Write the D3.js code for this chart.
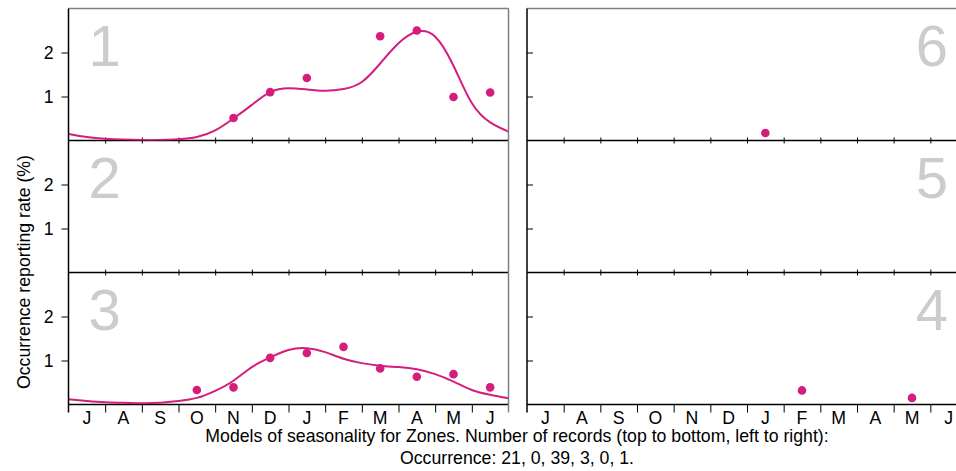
<!DOCTYPE html>
<html>
<head>
<meta charset="utf-8">
<script src="https://cdn.jsdelivr.net/npm/d3@7"></script>
<style>
  html, body { margin: 0; padding: 0; background: #fff; }
  svg { display: block; font-family: "Liberation Sans", Arial, sans-serif; }
</style>
</head>
<body>
<svg id="chart" width="956" height="471"></svg>
<script>
// ---------------- data ----------------
const months = ["J","A","S","O","N","D","J","F","M","A","M","J"];
const yTicks = [1, 2];
// zone labels, left column top->bottom, right column top->bottom
const leftZones = [1, 2, 3];
const rightZones = [6, 5, 4];
const recordCounts = [21, 0, 39, 3, 0, 1];

// observed monthly rates (month index 0 = July ... 11 = June)
const zone1Months = [4, 5, 6, 8, 9, 10, 11];
const zone1Rates  = [0.51, 1.10, 1.42, 2.37, 2.50, 0.99, 1.09];
const zone3Months = [3, 4, 5, 6, 7, 8, 9, 10, 11];
const zone3Rates  = [0.33, 0.39, 1.06, 1.17, 1.31, 0.82, 0.63, 0.69, 0.39];
const zone6Months = [6];
const zone6Rates  = [0.17];
const zone4Months = [7, 10];
const zone4Rates  = [0.32, 0.15];

// fitted seasonal model, sampled every half month
const modelPos = [0,0.5,1,1.5,2,2.5,3,3.5,4,4.5,5,5.5,6,6.5,7,7.5,8,8.5,9,9.5,10,10.5,11,11.5,12];
const zone1Model = [0.15,0.08,0.04,0.02,0.01,0.01,0.03,0.08,0.23,0.50,0.81,1.10,1.19,1.16,1.13,1.17,1.33,1.75,2.21,2.47,2.36,1.70,0.85,0.41,0.20];
const zone3Model = [0.12,0.08,0.05,0.04,0.03,0.04,0.08,0.15,0.31,0.54,0.85,1.07,1.24,1.28,1.19,1.04,0.94,0.88,0.85,0.80,0.69,0.52,0.33,0.22,0.14];

// ---------------- layout ----------------
const svg = d3.select("#chart");
const pink = "#d41d7c";
const frameGray = "#7f7f7f";
const numGray = "#cccccc";
const fontSize = 17.7;
const panelH = 132;
const tops = [8.5, 140.5, 272.5];
const cols = [
  { x0: 68.5, x1: 508.5, zones: leftZones },
  { x0: 527, x1: 967, zones: rightZones }
];
const bottomY = tops[2] + panelH;

const panelData = {
  1: { months: zone1Months, rates: zone1Rates, model: zone1Model },
  2: null,
  3: { months: zone3Months, rates: zone3Rates, model: zone3Model },
  6: { months: zone6Months, rates: zone6Rates, model: null },
  5: null,
  4: { months: zone4Months, rates: zone4Rates, model: null }
};

const defs = svg.append("defs");

cols.forEach((col, ci) => {
  const x = d3.scaleLinear().domain([0, 12]).range([col.x0, col.x1]);

  tops.forEach((top, ri) => {
    const zone = col.zones[ri];
    const y = d3.scaleLinear().domain([0, 3]).range([top + panelH, top]);
    const g = svg.append("g");

    // big zone number
    g.append("text")
      .attr("x", ci === 0 ? col.x0 + 20 : 948)
      .attr("y", top + 57)
      .attr("text-anchor", ci === 0 ? "start" : "end")
      .attr("font-size", 58)
      .attr("fill", numGray)
      .text(zone);

    // y axis
    const yAxis = ci === 0
      ? d3.axisLeft(y).tickValues(yTicks).tickSize(7).tickPadding(8).tickFormat(d3.format("d"))
      : d3.axisRight(y).tickValues(yTicks).tickSize(6).tickFormat("");
    const ya = g.append("g").attr("transform", `translate(${col.x0},0)`).call(yAxis);
    ya.select(".domain").remove();
    ya.selectAll("line").attr("stroke", "#000");
    ya.selectAll("text").attr("font-size", fontSize).attr("font-family", "Liberation Sans, Arial, sans-serif").attr("fill", "#000");

    // x axis (ticks at month boundaries)
    const isBottom = ri === 2;
    const xa = g.append("g").attr("transform", `translate(0,${top + panelH})`)
      .call(d3.axisBottom(x).tickValues(d3.range(1, 12)).tickSize(isBottom ? 8 : 3).tickFormat(""));
    xa.select(".domain").remove();
    xa.selectAll("line").attr("stroke", "#000");
    if (!isBottom) xa.selectAll(".tick line").attr("y1", -3).attr("y2", 3);
    g.append("line")
      .attr("x1", col.x0).attr("x2", col.x1)
      .attr("y1", top + panelH).attr("y2", top + panelH)
      .attr("stroke", "#000").attr("stroke-width", 1.5);

    if (isBottom) {
      g.selectAll(".mlabel").data(months).enter().append("text")
        .attr("x", (d, i) => x(i + 0.5))
        .attr("y", bottomY + 19)
        .attr("text-anchor", "middle")
        .attr("font-size", fontSize)
        .attr("fill", "#000")
        .text(d => d);
    }

    const pd = panelData[zone];
    if (pd) {
      const clipId = `clip${zone}`;
      defs.append("clipPath").attr("id", clipId).append("rect")
        .attr("x", col.x0).attr("y", top).attr("width", col.x1 - col.x0).attr("height", panelH);
      if (pd.model) {
        const line = d3.line()
          .x((d, i) => x(modelPos[i]))
          .y(d => y(d))
          .curve(d3.curveNatural);
        g.append("path")
          .attr("clip-path", `url(#${clipId})`)
          .attr("d", line(pd.model))
          .attr("fill", "none")
          .attr("stroke", pink)
          .attr("stroke-width", 2);
      }
      g.selectAll(".pt").data(pd.rates).enter().append("circle")
        .attr("cx", (d, i) => x(pd.months[i] + 0.5))
        .attr("cy", d => y(d))
        .attr("r", 4.3)
        .attr("fill", pink);
    }
  });

  // frame lines
  svg.append("line").attr("x1", col.x0).attr("x2", col.x1).attr("y1", tops[0]).attr("y2", tops[0])
    .attr("stroke", frameGray).attr("stroke-width", 1.5);
  svg.append("line").attr("x1", col.x0).attr("x2", col.x0).attr("y1", tops[0]).attr("y2", bottomY + 8)
    .attr("stroke", "#000").attr("stroke-width", 1.5);
  svg.append("line").attr("x1", col.x1).attr("x2", col.x1).attr("y1", tops[0]).attr("y2", bottomY + 8)
    .attr("stroke", frameGray).attr("stroke-width", 1.5);
});

// axis title
svg.append("text")
  .attr("transform", "translate(29.5,272) rotate(-90)")
  .attr("text-anchor", "middle")
  .attr("font-size", fontSize)
  .attr("fill", "#000")
  .text("Occurrence reporting rate (%)");

// caption
svg.append("text")
  .attr("x", 517).attr("y", 442)
  .attr("text-anchor", "middle")
  .attr("font-size", fontSize)
  .attr("fill", "#000")
  .text("Models of seasonality for Zones. Number of records (top to bottom, left to right):");
svg.append("text")
  .attr("x", 517).attr("y", 463.5)
  .attr("text-anchor", "middle")
  .attr("font-size", fontSize)
  .attr("fill", "#000")
  .text("Occurrence: " + recordCounts.join(", ") + ".");
</script>
</body>
</html>
